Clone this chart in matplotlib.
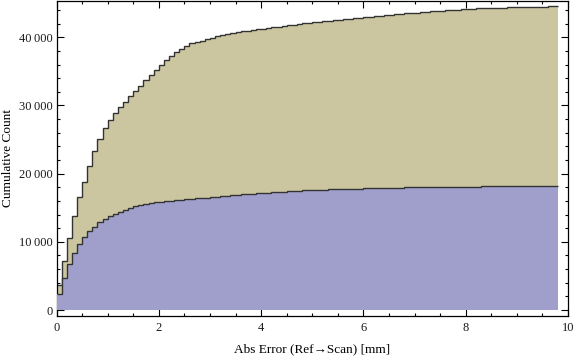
import numpy as np
import matplotlib
matplotlib.use("Agg")
import matplotlib.pyplot as plt
from matplotlib.ticker import MultipleLocator, FuncFormatter

# ---- data (cumulative counts per 0.1 mm bin, 0 .. 9.8 mm) ----
bin_width = 0.1
n_bins = 98

total_counts = [
    3620, 7180, 10600, 13750, 16540, 18720, 21110, 23270, 25070, 26640,
    27820, 28840, 29720, 30490, 31330, 32110, 32840, 33670, 34420, 35230,
    35990, 36610, 37210, 37780, 38220, 38700, 39100, 39330, 39510, 39720,
    39920, 40160, 40390, 40550, 40680, 40800, 40900, 40970, 41050, 41160,
    41270, 41380, 41490, 41570, 41660, 41750, 41840, 41940, 42040, 42130,
    42220, 42290, 42370, 42440, 42510, 42590, 42660, 42730, 42800, 42880,
    42950, 43020, 43100, 43170, 43240, 43310, 43390, 43460, 43540, 43580,
    43610, 43670, 43730, 43800, 43860, 43920, 43980, 44010, 44050, 44090,
    44130, 44180, 44230, 44250, 44270, 44320, 44360, 44370, 44380, 44400,
    44410, 44415, 44420, 44430, 44450, 44510, 44570, 44570,
]

subset_counts = [
    2350, 4640, 6700, 8310, 9680, 10660, 11540, 12240, 12870, 13300,
    13740, 14070, 14390, 14690, 14960, 15230, 15430, 15580, 15720, 15820,
    15860, 15960, 16000, 16080, 16120, 16250, 16330, 16400, 16450, 16500,
    16560, 16630, 16700, 16770, 16840, 16900, 16960, 17020, 17080, 17130,
    17180, 17230, 17280, 17330, 17380, 17420, 17460, 17500, 17530, 17560,
    17590, 17620, 17650, 17680, 17700, 17720, 17740, 17770, 17790, 17810,
    17830, 17850, 17870, 17890, 17910, 17930, 17950, 17960, 17970, 17980,
    17990, 18000, 18010, 18020, 18030, 18040, 18050, 18060, 18080, 18100,
    18110, 18110, 18115, 18120, 18120, 18125, 18130, 18130, 18135, 18140,
    18140, 18145, 18150, 18150, 18150, 18155, 18160, 18160,
]

x_label = "Abs Error (Ref\u2192Scan) [mm]"
y_label = "Cumulative Count"

edges = np.arange(n_bins + 1) * bin_width

W, H = 576, 357
fig = plt.figure(figsize=(W / 100, H / 100), dpi=100)
ax_left, ax_right, ax_top, ax_bottom = 56.5, 568, 0.5, 316
ax = fig.add_axes([ax_left / W, (H - ax_bottom) / H,
                   (ax_right - ax_left) / W, (ax_bottom - ax_top) / H])

tan = "#cbc6a0"
blue = "#a09fcc"
edge = "#333333"

ax.stairs(total_counts, edges, fill=True, baseline=0, color=tan, lw=0, zorder=1)
ax.stairs(total_counts, edges, baseline=None, color=edge, lw=1.0, zorder=2)
ax.stairs(subset_counts, edges, fill=True, baseline=0, color=blue, lw=0, zorder=3)
ax.stairs(subset_counts, edges, baseline=None, color=edge, lw=1.0, zorder=4)

ax.set_xlim(0, 10)
ax.set_ylim(-880, 45400)

fam = ["Liberation Serif", "DejaVu Serif"]
ax.xaxis.set_major_locator(MultipleLocator(2))
ax.xaxis.set_minor_locator(MultipleLocator(0.5))
ax.yaxis.set_major_locator(MultipleLocator(10000))
ax.yaxis.set_minor_locator(MultipleLocator(2000))
ax.yaxis.set_major_formatter(FuncFormatter(
    lambda v, p: "0" if v == 0 else f"{int(v):,}".replace(",", "\u2009")))
ax.xaxis.set_major_formatter(FuncFormatter(lambda v, p: f"{int(v)}"))

ax.tick_params(which="both", direction="in", top=True, right=True,
               color="black", width=0.8)
ax.tick_params(which="major", length=5)
ax.tick_params(which="minor", length=2.5)
ax.tick_params(axis="y", which="major", pad=3)
ax.tick_params(axis="x", which="major", pad=4)
for lab in ax.get_xticklabels() + ax.get_yticklabels():
    lab.set_family(fam)
    lab.set_fontsize(9)
    lab.set_color("#1a1a1a")

for s in ax.spines.values():
    s.set_linewidth(0.9)
    s.set_color("black")

ax.set_xlabel(x_label, family=fam, fontsize=9.5)
ax.set_ylabel(y_label, family=fam, fontsize=9.5)
pw = ax_right - ax_left
ph = ax_bottom - ax_top
ax.xaxis.set_label_coords((312 - ax_left) / pw, -(349 - ax_bottom) / ph)
ax.yaxis.set_label_coords(-(ax_left - 8.5) / pw, (ax_bottom - 158) / ph)
ax.xaxis.label.set_verticalalignment("center")
ax.yaxis.label.set_verticalalignment("center")

fig.savefig("out.png", dpi=100)
